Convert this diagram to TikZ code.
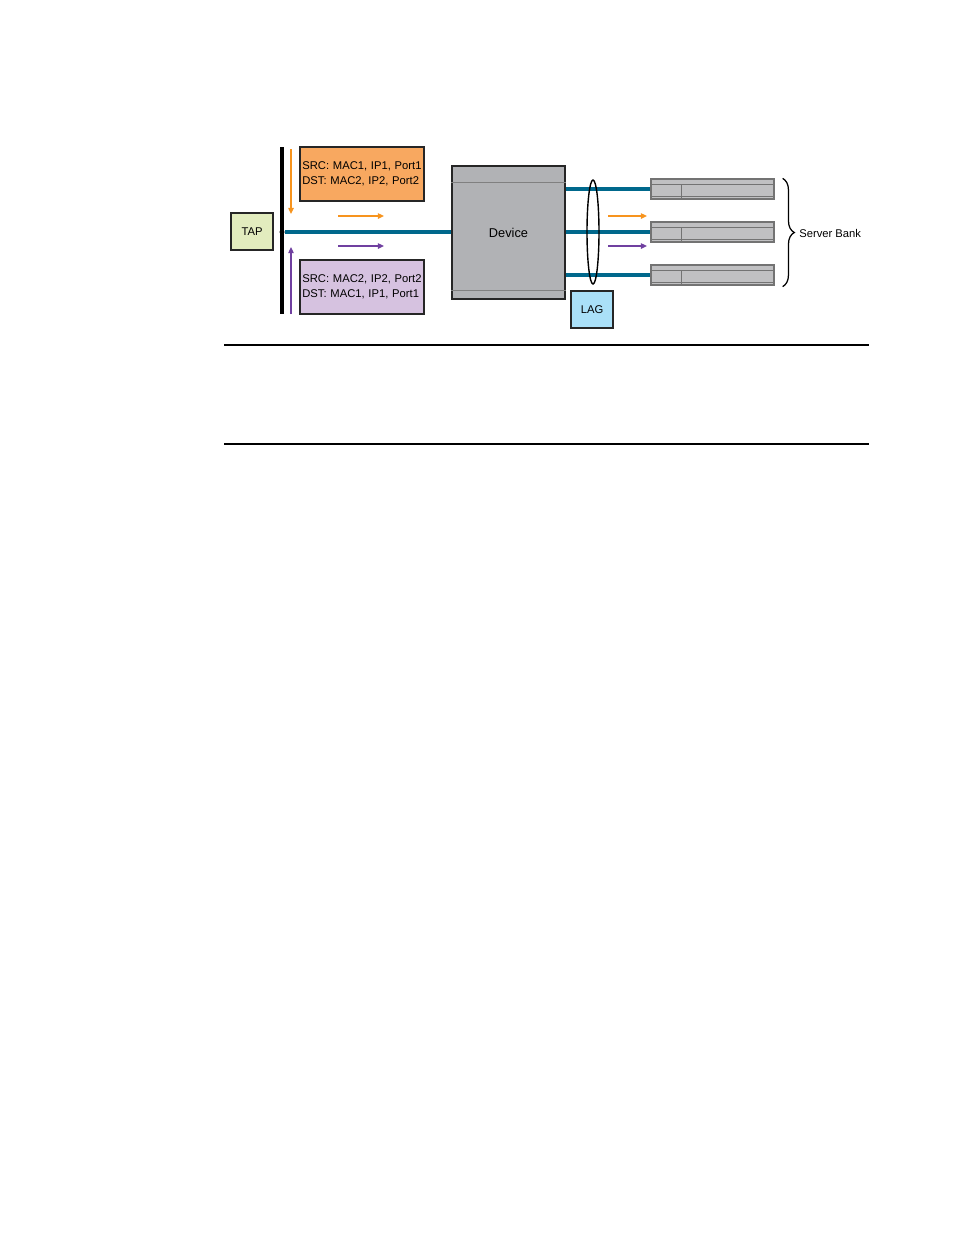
\documentclass[tikz,border=0pt]{standalone}
\usepackage{fontspec}
\setmainfont{Liberation Sans}
\usetikzlibrary{arrows.meta,decorations.pathreplacing}
\newcommand\pxu{0.6415pt}
\definecolor{tapgreen}{RGB}{226,236,190}
\definecolor{hdrorange}{RGB}{248,168,96}
\definecolor{hdrpurple}{RGB}{214,194,224}
\definecolor{lagblue}{RGB}{170,224,248}
\definecolor{devgray}{RGB}{177,178,181}
\definecolor{srvgray}{RGB}{192,192,194}
\definecolor{linkteal}{RGB}{0,104,140}
\definecolor{floworange}{RGB}{247,148,30}
\definecolor{flowpurple}{RGB}{112,64,160}
\begin{document}
\begin{tikzpicture}[x=\pxu, y=-\pxu,
    txt/.style={font=\fontsize{7.2}{9.6}\selectfont},
    box/.style={draw=black!85, line width=0.9pt, txt, inner sep=0pt},
    hdr/.style={box, align=left, text width=76.5pt, minimum height=54*\pxu, inner xsep=1.5pt},
    srv/.style={draw=black!55, line width=0.8pt, fill=srvgray, minimum width=123*\pxu, minimum height=20*\pxu, inner sep=0pt},
    srvline/.style={draw=black!55, line width=0.5pt},
    link/.style={draw=linkteal, line width=2pt},
    flowA/.style={draw=floworange, line width=1pt, -{Triangle[length=4pt,width=3.5pt]}},
    flowB/.style={draw=flowpurple, line width=1pt, -{Triangle[length=4pt,width=3.5pt]}}]
  \useasboundingbox (0,0) rectangle (954,1235);

  % tap side
  \node[box, fill=tapgreen, minimum width=42*\pxu, minimum height=37*\pxu] (tap) at (252,231.5) {TAP};
  \coordinate (bartop) at (282,147);
  \coordinate (barbot) at (282,314);
  \draw[line width=2pt] (bartop) -- (barbot);
  \node[hdr, fill=hdrorange] (fwd) at (362,174) {SRC: MAC1, IP1, Port1\\DST: MAC2, IP2, Port2};
  \node[hdr, fill=hdrpurple] (rev) at (362,287) {SRC: MAC2, IP2, Port2\\DST: MAC1, IP1, Port1};
  \draw[flowA] (291,149) -- (291,214);
  \draw[flowB] (291,314) -- (291,247);
  \draw[flowA] (338,216) -- (384,216);
  \draw[flowB] (338,246) -- (384,246);

  % device
  \node[box, fill=devgray, minimum width=113*\pxu, minimum height=133*\pxu, font=\fontsize{8.2}{10}\selectfont] (device) at (508.5,232.5) {Device};
  \draw[black!50, line width=0.5pt] ([yshift=-17*\pxu]device.north west) -- ([yshift=-17*\pxu]device.north east);
  \draw[black!50, line width=0.5pt] ([yshift=9*\pxu]device.south west) -- ([yshift=9*\pxu]device.south east);
  \node[circle, fill=black, inner sep=0pt, minimum size=5*\pxu] (tapdot) at (282,232) {};
  \draw[link] (tapdot) -- (device.west |- tapdot);

  % server bank
  \node[srv] (srv1) at (712.5,189) {};
  \node[srv] (srv2) at (712.5,232) {};
  \node[srv] (srv3) at (712.5,275) {};
  \foreach \s in {srv1,srv2,srv3} {
    \draw[srvline] ([yshift=-6*\pxu]\s.north west) -- ([yshift=-6*\pxu]\s.north east);
    \draw[srvline] ([yshift=3*\pxu]\s.south west) -- ([yshift=3*\pxu]\s.south east);
    \draw[srvline] ([xshift=31*\pxu,yshift=-6*\pxu]\s.north west) -- ([xshift=31*\pxu]\s.south west);
    \draw[link] (\s.west -| device.east) -- (\s.west);
  }
  \draw[line width=0.9pt] (593,232) ellipse [x radius=6, y radius=52];
  \draw[flowA] (608,216) -- (647,216);
  \draw[flowB] (608,246) -- (647,246);
  \node[box, fill=lagblue, minimum width=42*\pxu, minimum height=37*\pxu] (lag) at (592,309.5) {LAG};
  \draw[line width=0.8pt, decorate, decoration={brace, amplitude=7.5pt}]
    ([xshift=8*\pxu]srv1.north east) -- ([xshift=8*\pxu,yshift=-1*\pxu]srv3.south east);
  \node[txt, anchor=west, inner sep=0pt] (bank) at (799,233) {Server Bank};

  % rules
  \draw[line width=1.4pt] (224,345) -- (869,345);
  \draw[line width=1.4pt] (224,444) -- (869,444);
\end{tikzpicture}
\end{document}
